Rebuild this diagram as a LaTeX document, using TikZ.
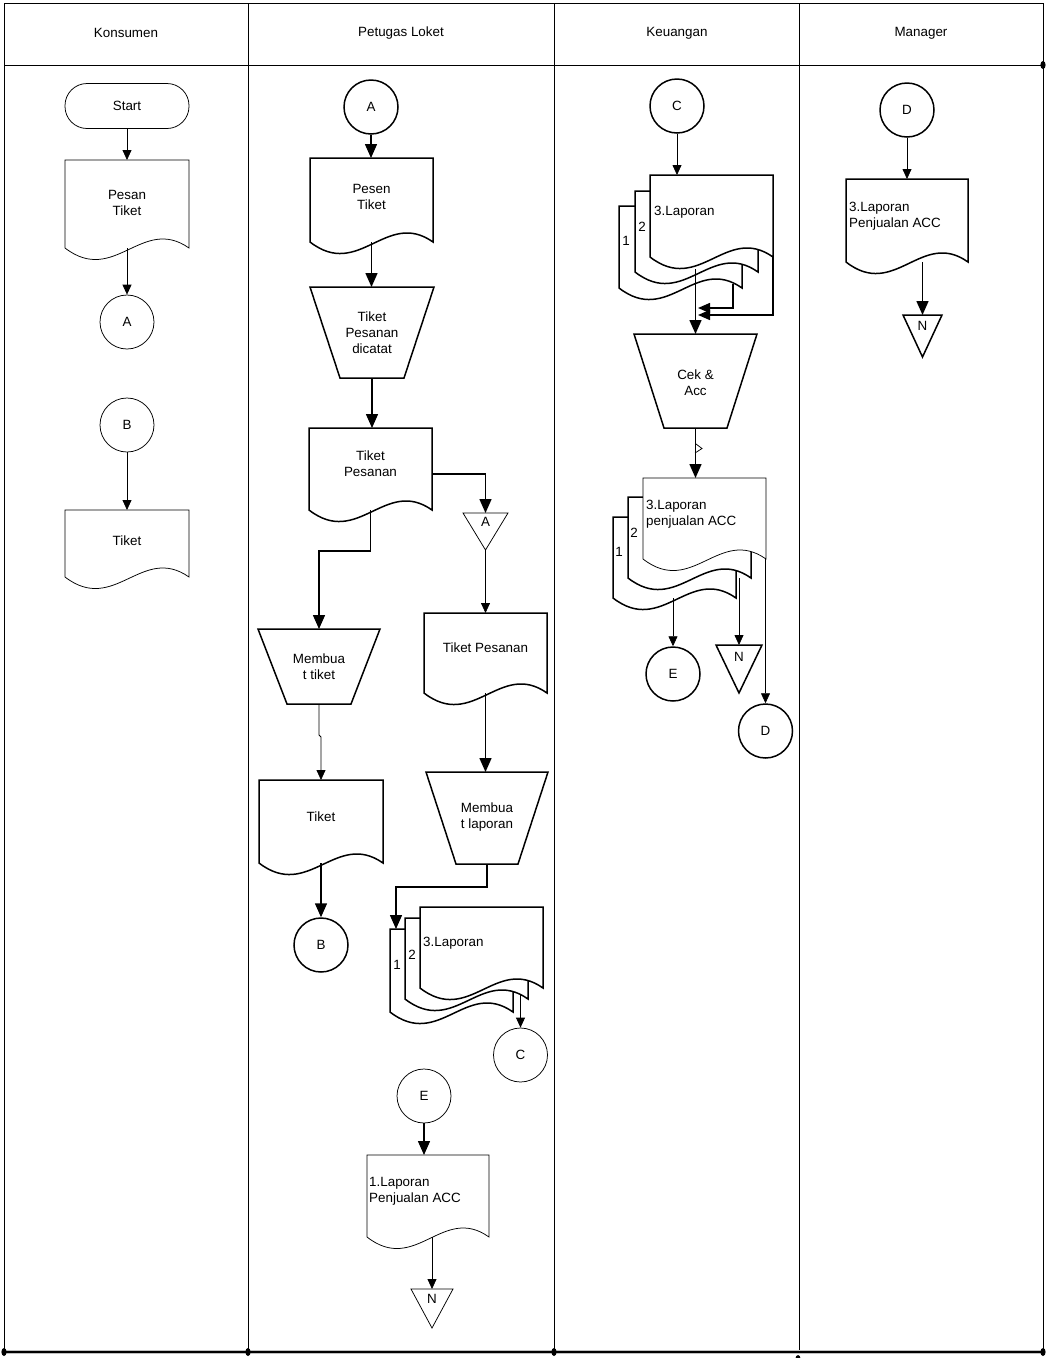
\documentclass[tikz,border=0pt]{standalone}
\usepackage{fontspec}
\setmainfont{Liberation Sans}
\usetikzlibrary{arrows.meta,calc}

\tikzset{
  thn/.style={line width=0.75pt},
  thk/.style={line width=1.5pt},
  txt/.style={font=\fontsize{13.4}{15.8}\selectfont, align=center, inner sep=0pt},
  ltxt/.style={txt, align=left, anchor=west},
  circ/.style={circle, draw, fill=white, minimum size=54pt, inner sep=0pt,
               font=\fontsize{13.4}{15.8}\selectfont},
  tarr/.style={thn, -{Triangle[length=10pt,width=9pt]}},
  karr/.style={thk, -{Triangle[length=14pt,width=12pt]}},
  marr/.style={thk, -{Triangle[length=12pt,width=10pt]}},
  frame/.style={line width=0.9pt},
}

% document symbol: style, name, left, top, right, bottom corner
\newcommand\docnode[6][thn]{%
  \pgfmathsetmacro\dnW{#5-#3}%
  \pgfmathsetmacro\dnH{#6-#4}%
  \pgfmathsetmacro\dnX{(#3+#5)/2}%
  \pgfmathsetmacro\dnY{(#4+#6)/2}%
  \pgfmathsetmacro\dnA{#3+0.62*\dnW}%
  \pgfmathsetmacro\dnB{#3+0.40*\dnW}%
  \pgfmathsetmacro\dnU{#6-33}%
  \pgfmathsetmacro\dnD{#6+38}%
  \draw[#1, fill=white] (#3,#6) -- (#3,#4) -- (#5,#4) -- (#5,#6)
     .. controls (\dnA,\dnU) and (\dnB,\dnD) .. (#3,#6) -- cycle;
  \node[inner sep=0pt, outer sep=0pt, minimum width=\dnW pt,
        minimum height=\dnH pt] (#2) at (\dnX,\dnY) {};
}

% manual operation (trapezoid): style, name, left, top, right, bottom, inset
\newcommand\trapnode[7][thk]{%
  \pgfmathsetmacro\dnW{#5-#3}%
  \pgfmathsetmacro\dnH{#6-#4}%
  \pgfmathsetmacro\dnX{(#3+#5)/2}%
  \pgfmathsetmacro\dnY{(#4+#6)/2}%
  \draw[#1, fill=white] (#3,#4) -- (#5,#4) -- ({#5-#7},#6) -- ({#3+#7},#6) -- cycle;
  \node[inner sep=0pt, outer sep=0pt, minimum width=\dnW pt,
        minimum height=\dnH pt] (#2) at (\dnX,\dnY) {};
}

% off-page connector (inverted triangle): style, name, left, top, right, apex
\newcommand\offnode[6][thn]{%
  \pgfmathsetmacro\dnW{#5-#3}%
  \pgfmathsetmacro\dnH{#6-#4}%
  \pgfmathsetmacro\dnX{(#3+#5)/2}%
  \pgfmathsetmacro\dnY{(#4+#6)/2}%
  \draw[#1, fill=white] (#3,#4) -- (#5,#4) -- (\dnX,#6) -- cycle;
  \node[inner sep=0pt, outer sep=0pt, minimum width=\dnW pt,
        minimum height=\dnH pt] (#2) at (\dnX,\dnY) {};
}

\begin{document}
\begin{tikzpicture}[x=1pt, y=-1pt]
\useasboundingbox (0,0) rectangle (1048,1358);

% ---------- swimlane frame ----------
\draw[frame] (4,3) -- (1043,3);
\draw[frame] (4,65) -- (1043,65);
\draw[frame] (4,3) -- (4,1352);
\draw[frame] (1043,3) -- (1043,1352);
\draw[frame] (248,3) -- (248,1352);
\draw[line width=0.7pt] (554,3) -- (554,1352);
\draw[frame] (799,3) -- (799,1352);
\draw[gray!50, line width=3.5pt] (4,1352) -- (1043,1352);
\draw[line width=1.1pt] (4,1352) -- (1043,1352);
\foreach \px/\py in {4/1352, 248/1352, 554/1352, 1043/1352, 1043/65, 798/1359}
  \fill (\px,\py) ellipse [x radius=2.6pt, y radius=4pt];

\node[txt] (h1) at (126,33) {Konsumen};
\node[txt] (h2) at (401,33) {Petugas Loket};
\node[txt] (h3) at (677,33) {Keuangan};
\node[txt] (h4) at (921,33) {Manager};

% ---------- Konsumen ----------
\node[thn, draw, rounded corners=22pt, minimum width=124pt, minimum height=45pt,
      inner sep=0pt, font=\fontsize{13.4}{15.8}\selectfont] (start) at (127,106) {Start};
\docnode[thn]{pesan}{65}{160}{189}{248}
\node[txt] (pesan-t) at (127,203) {Pesan\\Tiket};
\node[circ, thn] (cA) at (127,322) {A};
\node[circ, thn] (cB) at (127,425) {B};
\docnode[thn]{tiket1}{65}{510}{189}{577}
\node[txt] (tiket1-t) at (127,541) {Tiket};

\draw[tarr] (start.south) -- (pesan.north);
\draw[tarr] (pesan.south) -- (cA.north);
\draw[tarr] (cB.south) -- (tiket1.north);

% ---------- Petugas Loket ----------
\node[circ, thk] (pA) at (371,107) {A};
\docnode[thk]{pesen}{310}{158}{433}{242}
\node[txt] (pesen-t) at (371.5,197) {Pesen\\Tiket};
\trapnode[thk]{dicatat}{310}{287}{434}{378}{30}
\node[txt] (dicatat-t) at (372,333) {Tiket\\Pesanan\\dicatat};
\docnode[thk]{tpesan}{309}{428}{432}{510}
\node[txt] (tpesan-t) at (370.5,463.5) {Tiket\\Pesanan};
\offnode[thn]{offA}{463}{513}{508}{550}
\node[txt] (offA-t) at (485.5,522) {A};
\trapnode[thk]{buat}{258}{629}{380}{704}{29}
\node[txt] (buat-t) at (319,667) {Membua\\t tiket};
\docnode[thk]{tiket2}{259}{780}{383}{863}
\node[txt] (tiket2-t) at (321,817) {Tiket};
\node[circ, thk] (pB) at (321,945) {B};
\docnode[thk]{tpesan2}{424}{613}{547}{693}
\node[txt] (tpesan2-t) at (485.5,648) {Tiket Pesanan};
\trapnode[thk]{laporan}{426}{772}{548}{864}{30}
\node[txt] (laporan-t) at (487,817) {Membua\\t laporan};

\docnode[thk]{p1}{390}{929}{513}{1012}
\docnode[thk]{p2}{405}{918}{528}{999}
\docnode[thk]{p3}{420}{907}{543}{988}
\node[txt] (p1-t) at (397,965) {1};
\node[txt] (p2-t) at (412,955) {2};
\node[ltxt] (p3-t) at (423,943) {3.Laporan};
\node[circ, thn] (pC) at (520.5,1055) {C};

\node[circ, thn] (pE) at (424,1096) {E};
\docnode[thn]{lap1}{367}{1155}{489}{1237}
\node[ltxt] (lap1-t) at (369,1191.5) {1.Laporan\\Penjualan ACC};
\offnode[thn]{offN1}{411}{1289}{453}{1328}
\node[txt] (offN1-t) at (432,1299) {N};

\draw[karr] (pA.south) -- (pA.south |- pesen.north);
\draw[karr] (pesen.south) -- (pesen.south |- dicatat.north);
\draw[karr] (dicatat.south) -- (dicatat.south |- tpesan.north);
\draw[karr] ($(tpesan.east)+(0,5)$) -| (offA.north);
\draw[karr] (tpesan.south) -- ++(0,41) -| (buat.north);
\draw[tarr] (offA.south) -- (offA.south |- tpesan2.north);
\draw[tarr] (buat.south) -- ++(0,31) -- ++(2,2) -- (tiket2.north);
\draw[karr] (tiket2.south) -- (pB.north);
\draw[karr] (tpesan2.south) -- (tpesan2.south |- laporan.north);
\draw[karr] (laporan.south) -- ++(0,23) -| ($(p1.north west)+(6,0)$);
\draw[tarr] ($(pC.north |- p3.south)+(0,6)$) -- (pC.north);
\draw[karr] (pE.south) -- (pE.south |- lap1.north);
\draw[tarr] (offN1.north |- lap1.south) -- (offN1.north);

% ---------- Keuangan ----------
\node[circ, thk] (kC) at (677,106) {C};
\docnode[thk]{k1}{619}{206}{742}{288}
\docnode[thk]{k2}{635}{191}{758}{272}
\docnode[thk]{k3}{650}{175}{773}{257}
\node[txt] (k1-t) at (626,241) {1};
\node[txt] (k2-t) at (642,227) {2};
\node[ltxt] (k3-t) at (654,212) {3.Laporan};

\trapnode[thk]{cek}{634}{334}{757}{428}{30}
\node[txt] (cek-t) at (695.5,383) {Cek \&\\Acc};

\docnode[thk]{kk1}{613}{517}{736}{598}
\docnode[thk]{kk2}{628}{497}{751}{578}
\docnode[thn]{kk3}{643}{478}{766}{559}
\node[txt] (kk1-t) at (619,552) {1};
\node[txt] (kk2-t) at (634,533) {2};
\node[ltxt] (kk3-t) at (646,514) {3.Laporan\\penjualan ACC};

\node[circ, thk] (kE) at (673,674) {E};
\offnode[thk]{kN}{716}{645}{762}{693}
\node[txt] (kN-t) at (739,657) {N};
\node[circ, thk] (kD) at (765.5,731) {D};

\coordinate (k2tail) at (733,284);
\coordinate (k3tail) at (k3.south east);
\coordinate (kjoin1) at (698,308);
\coordinate (kjoin2) at (698,315);

\draw[tarr] (kC.south) -- (kC.south |- k3.north);
\draw[karr] ($(cek.north)+(0,-65)$) -- (cek.north);
\draw[marr] (k2tail) |- (kjoin1);
\draw[marr] (k3tail) |- (kjoin2);
\draw[karr] (cek.south) -- (cek.south |- kk3.north);
\draw[thn] (696,444) -- (702,448.5) -- (695,453);
\draw[tarr] (kE.north |- kk1.south) -- (kE.north);
\draw[tarr] (kN.north |- kk2.south) -- (kN.north);
\draw[tarr] (kD.north |- kk3.south east) -- (kD.north);

% ---------- Manager ----------
\node[circ, thk] (mD) at (907,110) {D};
\docnode[thk]{mdoc}{846}{179}{968}{262}
\node[ltxt] (mdoc-t) at (849,216) {3.Laporan\\Penjualan ACC};
\offnode[thk]{mN}{903}{315}{942}{357}
\node[txt] (mN-t) at (922.5,326) {N};

\draw[tarr] (mD.south) -- (mD.south |- mdoc.north);
\draw[karr] (mN.north |- mdoc.south) -- (mN.north);
\end{tikzpicture}
\end{document}
